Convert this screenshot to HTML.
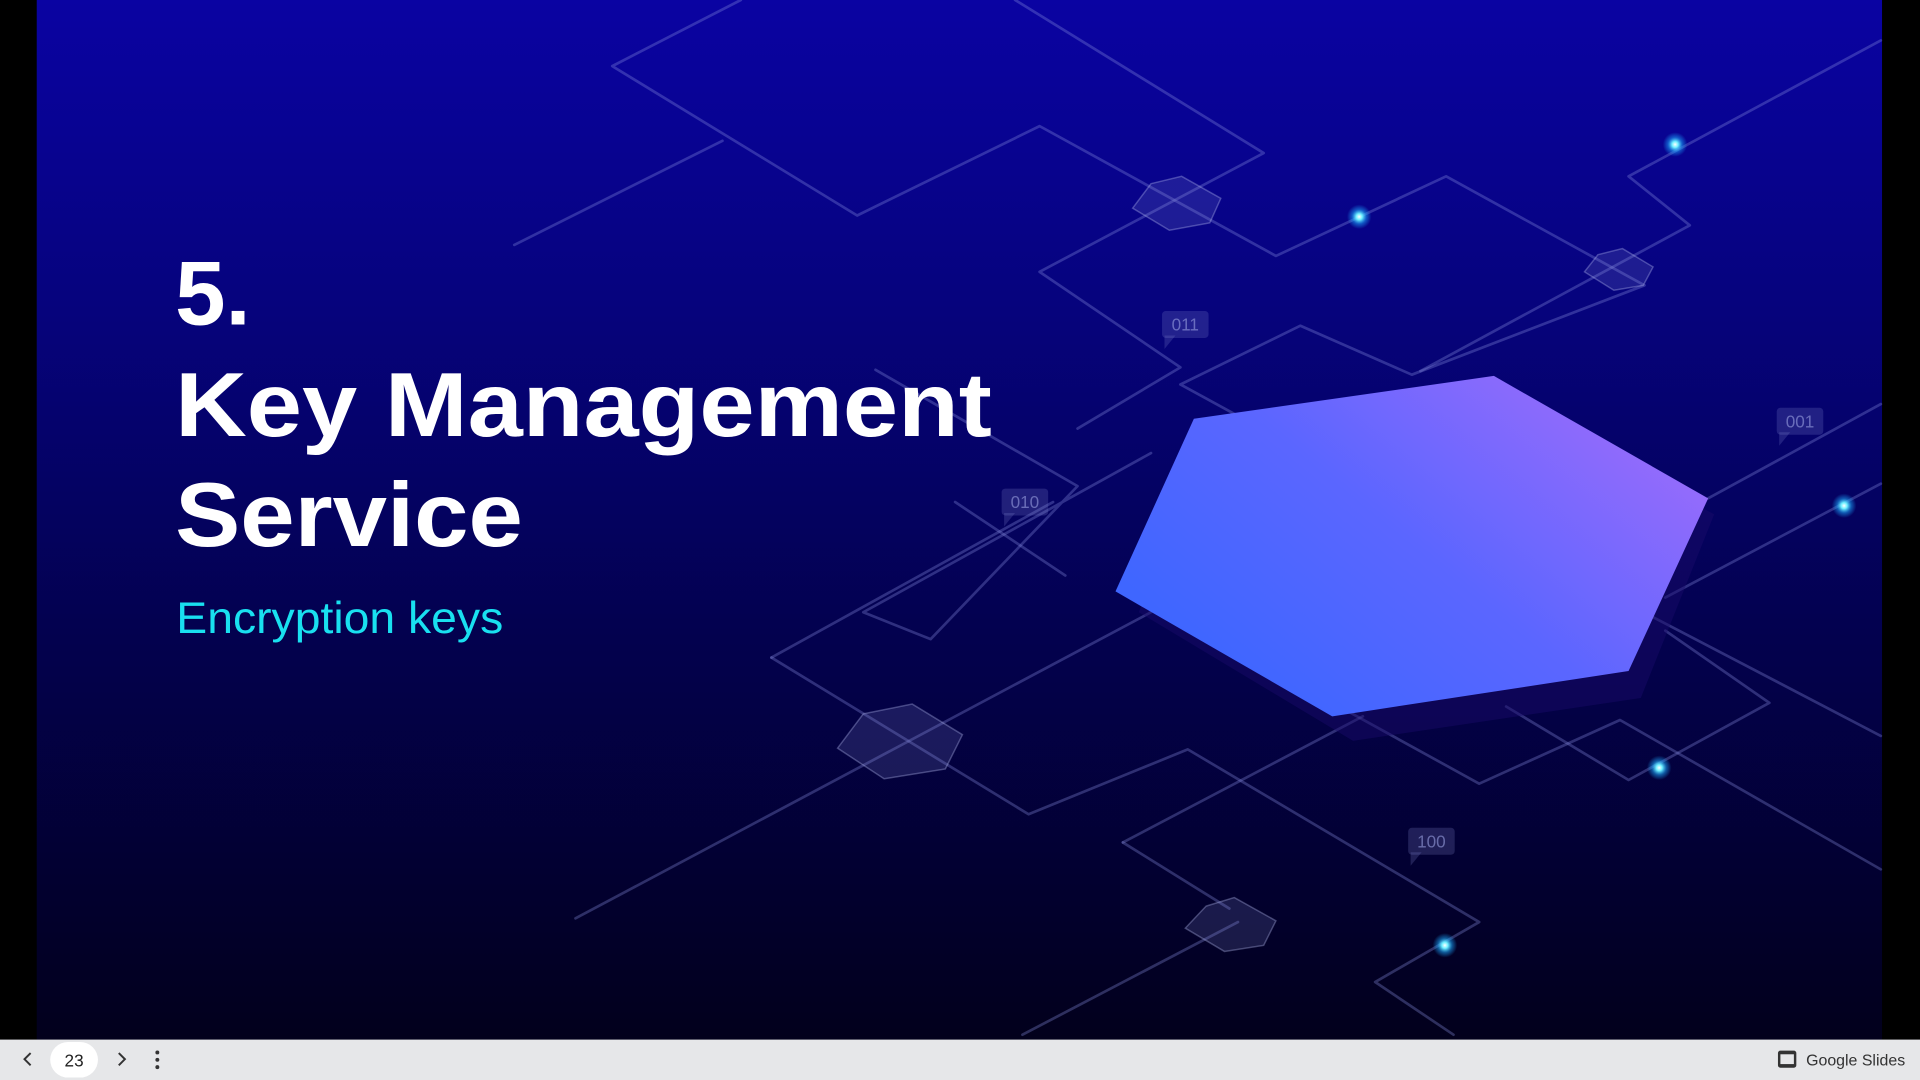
<!DOCTYPE html>
<html><head><meta charset="utf-8"><style>
html,body{margin:0;padding:0;width:1920px;height:1080px;overflow:hidden;background:#000}
svg{display:block}
</style></head><body>
<svg width="1920" height="1080" viewBox="0 0 1568 882" xmlns="http://www.w3.org/2000/svg">
<defs>
<linearGradient id="bg" x1="0" y1="0" x2="0" y2="1">
<stop offset="0" stop-color="#0a03a2"/>
<stop offset="0.3" stop-color="#06037c"/>
<stop offset="0.6" stop-color="#030150"/>
<stop offset="1" stop-color="#02001c"/>
</linearGradient>
<linearGradient id="hx" x1="0.15" y1="0.8" x2="1" y2="0.2">
<stop offset="0" stop-color="#3f66ff"/>
<stop offset="0.45" stop-color="#5b66ff"/>
<stop offset="1" stop-color="#9e6cfb"/>
</linearGradient>
<radialGradient id="gl">
<stop offset="0" stop-color="#ffffff"/>
<stop offset="0.25" stop-color="#6ff0ff"/>
<stop offset="0.6" stop-color="#1aa8ff" stop-opacity="0.5"/>
<stop offset="1" stop-color="#1aa8ff" stop-opacity="0"/>
</radialGradient>
</defs>
<rect x="0" y="0" width="1568" height="882" fill="#000"/>
<rect x="30" y="0" width="1507" height="849" fill="url(#bg)"/>
<g fill="none" stroke="#8a8fe0" stroke-opacity="0.33" stroke-width="2.2" stroke-linejoin="round" stroke-linecap="round">
<path d="M605,0 L500,54 L700,176 L849,103 L1042,209 L1181,144 L1343,233 L1153,306 L1062,266 L964,314 L1030,350"/>
<path d="M829,0 L1032,125 L849,222 L964,300 L880,350"/>
<path d="M1536,33 L1330,144 L1380,184 L1160,303"/>
<path d="M1536,330 L1395,407"/>
<path d="M1536,395 L1360,488"/>
<path d="M1536,601 L1350,504"/>
<path d="M1536,710 L1323,588 L1208,640 L1090,575"/>
<path d="M1360,515 L1445,574 L1330,637 L1230,577"/>
<path d="M420,200 L590,115"/>
<path d="M470,750 L940,500"/>
<path d="M630,537 L840,665 L970,612 L1208,753 L1123,802 L1187,845"/>
<path d="M835,845 L1011,753"/>
<path d="M917,688 L1113,585"/>
<path d="M917,688 L1004,742"/>
<path d="M630,537 L860,410"/>
<path d="M715,302 L880,397 L760,522 L705,500 L940,370"/>
<path d="M780,410 L870,470"/>
</g>
<polygon points="930,500 1105,605 1340,570 1400,420 1220,325 985,360" fill="#1a0a6a" opacity="0.45"/>
<polygon points="975,342 1220,307 1395,407 1330,548 1088,585 911,483" fill="url(#hx)"/>
<g fill="#8a8fd8" fill-opacity="0.18" stroke="#b8bcf0" stroke-opacity="0.35" stroke-width="1.2">
<polygon points="940,150 965,144 997,162 988,182 955,188 925,170"/>
<polygon points="1305,208 1325,203 1350,218 1342,233 1318,237 1294,222"/>
<polygon points="705,583 745,575 786,600 772,628 722,636 684,611"/>
<polygon points="985,740 1008,733 1042,752 1032,772 1000,777 968,758"/>
</g>
<g fill="#8a8fd8" fill-opacity="0.22">
<rect x="949" y="254" width="38" height="22" rx="3"/><path d="M951,274 L951,285 L960,274 Z"/>
<rect x="818" y="399" width="38" height="22" rx="3"/><path d="M820,419 L820,430 L829,419 Z"/>
<rect x="1451" y="333" width="38" height="22" rx="3"/><path d="M1453,353 L1453,364 L1462,353 Z"/>
<rect x="1150" y="676" width="38" height="22" rx="3"/><path d="M1152,696 L1152,707 L1161,696 Z"/>
</g>
<g font-family="Liberation Sans, sans-serif" font-size="14" fill="#9aa0e0" fill-opacity="0.6" text-anchor="middle">
<text x="968" y="270">011</text><text x="837" y="415">010</text><text x="1470" y="349">001</text><text x="1169" y="692">100</text>
</g>
<g>
<circle cx="1110" cy="177" r="10" fill="url(#gl)"/>
<circle cx="1368" cy="118" r="10" fill="url(#gl)"/>
<circle cx="1506" cy="413" r="10" fill="url(#gl)"/>
<circle cx="1355" cy="627" r="10" fill="url(#gl)"/>
<circle cx="1180" cy="772" r="10" fill="url(#gl)"/>
</g>
<g font-family="Liberation Sans, sans-serif" font-weight="bold" fill="#fff" font-size="74">
<text x="143" y="265">5.</text>
<text x="143" y="356" textLength="667" lengthAdjust="spacingAndGlyphs">Key Management</text>
<text x="143" y="446" textLength="284" lengthAdjust="spacingAndGlyphs">Service</text>
</g>
<text x="144" y="517" font-family="Liberation Sans, sans-serif" font-size="36" fill="#19e0f0" textLength="267" lengthAdjust="spacingAndGlyphs">Encryption keys</text>
<rect x="0" y="849" width="1568" height="33" fill="#e6e7e9"/>
<path d="M25,860 L20,865 L25,870" fill="none" stroke="#333" stroke-width="1.6"/>
<rect x="41" y="851" width="39" height="29" rx="14.5" fill="#fff"/>
<text x="60.5" y="871" font-family="Liberation Sans, sans-serif" font-size="14" fill="#222" text-anchor="middle">23</text>
<path d="M97,860 L102,865 L97,870" fill="none" stroke="#333" stroke-width="1.6"/>
<circle cx="128.5" cy="859.5" r="1.6" fill="#333"/><circle cx="128.5" cy="865.5" r="1.6" fill="#333"/><circle cx="128.5" cy="871.5" r="1.6" fill="#333"/>
<rect x="1452" y="858" width="15" height="14" rx="2" fill="#333"/><rect x="1454" y="861" width="11" height="8" fill="#e6e7e9"/>
<text x="1475" y="870" font-family="Liberation Sans, sans-serif" font-size="13" fill="#333">Google Slides</text>
</svg>
</body></html>
